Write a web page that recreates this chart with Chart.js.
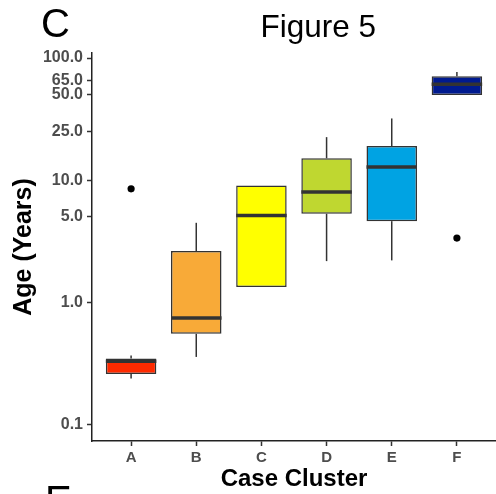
<!DOCTYPE html>
<html>
<head>
<meta charset="utf-8">
<script src="https://cdn.jsdelivr.net/npm/chart.js@4.4.1/dist/chart.umd.min.js"></script>
<style>
  html, body { margin: 0; padding: 0; background: #ffffff; }
  #wrap { position: relative; width: 496px; height: 494px; overflow: hidden; background: #ffffff; }
  #wrap canvas { position: absolute; left: 0; top: 0; }
  .lbl { position: absolute; font-family: "Liberation Sans", Arial, sans-serif; color: #000; white-space: nowrap; }
  .panel { font-size: 40px; line-height: 40px; }
  .title { font-size: 31.5px; line-height: 31.5px; }
</style>
</head>
<body>
<div id="wrap">
  <canvas id="chartAge" width="496" height="494"></canvas>
  <span class="lbl panel" style="left:41px; top:3px;">C</span>
  <span class="lbl title" style="left:260.5px; top:10.5px;">Figure 5</span>
  <span class="lbl panel" style="left:45px; top:480px;">E</span>
</div>
<script>
// --- DATA ---
const categories = ['A', 'B', 'C', 'D', 'E', 'F'];
const whiskerLow = [0.237, 0.356, 1.33, 2.17, 2.2, 49.8];
const q1 = [0.258, 0.55, 1.33, 5.3, 4.61, 49.8];
const median = [0.328, 0.743, 5.14, 8.0, 12.8, 60.9];
const q3 = [0.346, 2.62, 9.05, 15.1, 19.0, 71.0];
const whiskerHigh = [0.366, 4.47, 9.05, 22.5, 32.0, 77.0];
const outlierCluster = ['A', 'F'];
const outlierAge = [8.49, 3.35];
const yTicks = [0.1, 1, 5, 10, 25, 50, 65, 100];

const boxColors = ['#ff2a00', '#f8aa38', '#ffff00', '#bfd730', '#00a3e3', '#001a8f'];
const lineColor = '#333333';
const tickColor = '#4d4d4d';
const fontFamily = '"Liberation Sans", Arial, sans-serif';

// Whiskers behind the boxes, medians on top
const boxPlotLines = {
  id: 'boxPlotLines',
  beforeDatasetsDraw(chart) {
    const ctx = chart.ctx;
    const x = chart.scales.x;
    const y = chart.scales.y;
    ctx.save();
    ctx.strokeStyle = lineColor;
    ctx.lineWidth = 1.5;
    categories.forEach((c, i) => {
      const px = x.getPixelForValue(i);
      if (whiskerHigh[i] > q3[i]) {
        ctx.beginPath();
        ctx.moveTo(px, y.getPixelForValue(q3[i]));
        ctx.lineTo(px, y.getPixelForValue(whiskerHigh[i]));
        ctx.stroke();
      }
      if (whiskerLow[i] < q1[i]) {
        ctx.beginPath();
        ctx.moveTo(px, y.getPixelForValue(q1[i]));
        ctx.lineTo(px, y.getPixelForValue(whiskerLow[i]));
        ctx.stroke();
      }
    });
    ctx.restore();
  },
  afterDatasetsDraw(chart) {
    const ctx = chart.ctx;
    const y = chart.scales.y;
    const bars = chart.getDatasetMeta(0).data;
    ctx.save();
    ctx.strokeStyle = lineColor;
    ctx.lineWidth = 3.5;
    bars.forEach((bar, i) => {
      const py = y.getPixelForValue(median[i]);
      ctx.beginPath();
      ctx.moveTo(bar.x - bar.width / 2, py);
      ctx.lineTo(bar.x + bar.width / 2, py);
      ctx.stroke();
    });
    ctx.restore();
  }
};

const ctx = document.getElementById('chartAge').getContext('2d');

new Chart(ctx, {
  type: 'bar',
  data: {
    datasets: [{
      label: 'IQR',
      data: categories.map((c, i) => ({ x: i, y: [q1[i], q3[i]] })),
      backgroundColor: boxColors,
      borderColor: lineColor,
      borderWidth: 1.5,
      borderSkipped: false,
      barPercentage: 0.775,
      categoryPercentage: 1
    }, {
      type: 'scatter',
      label: 'Outliers',
      data: outlierAge.map((v, i) => ({ x: categories.indexOf(outlierCluster[i]), y: v })),
      backgroundColor: '#000000',
      borderColor: '#000000',
      pointRadius: 3.6,
      borderWidth: 0
    }]
  },
  options: {
    responsive: false,
    animation: false,
    events: [],
    layout: { autoPadding: false, padding: { top: 53, right: 0, bottom: 0, left: 0 } },
    plugins: {
      legend: { display: false },
      tooltip: { enabled: false },
      title: { display: false }
    },
    scales: {
      x: {
        type: 'linear',
        min: -0.6,
        max: 5.6,
        offset: false,
        afterBuildTicks: (scale) => { scale.ticks = categories.map((c, i) => ({ value: i })); },
        afterFit: (scale) => { scale.height = 53; },
        ticks: {
          color: tickColor,
          padding: 3,
          autoSkip: false,
          maxRotation: 0,
          font: { family: fontFamily, size: 15, weight: 'bold' },
          callback: (val) => categories[val]
        },
        grid: { offset: false, drawOnChartArea: false, drawTicks: true, tickLength: 5, tickWidth: 1.5, color: lineColor },
        border: { display: true, color: '#222222', width: 1.5 },
        title: {
          display: true,
          text: 'Case Cluster',
          color: '#000000',
          padding: { top: 0, bottom: 0 },
          font: { family: fontFamily, size: 24, weight: 'bold' }
        }
      },
      y: {
        type: 'logarithmic',
        min: 0.0729,
        max: 110,
        afterBuildTicks: (scale) => { scale.ticks = yTicks.map(v => ({ value: v })); },
        afterFit: (scale) => { scale.width = 92; },
        ticks: {
          color: tickColor,
          padding: 4,
          autoSkip: false,
          font: { family: fontFamily, size: 16, weight: 'bold' },
          callback: (val) => Number(val).toFixed(1)
        },
        grid: { drawOnChartArea: false, drawTicks: true, tickLength: 5, tickWidth: 1.5, color: lineColor },
        border: { display: true, color: '#222222', width: 1.5 },
        title: {
          display: true,
          text: 'Age (Years)',
          color: '#000000',
          padding: { top: 9, bottom: 0 },
          font: { family: fontFamily, size: 25, weight: 'bold' }
        }
      }
    }
  },
  plugins: [boxPlotLines]
});
</script>
</body>
</html>
